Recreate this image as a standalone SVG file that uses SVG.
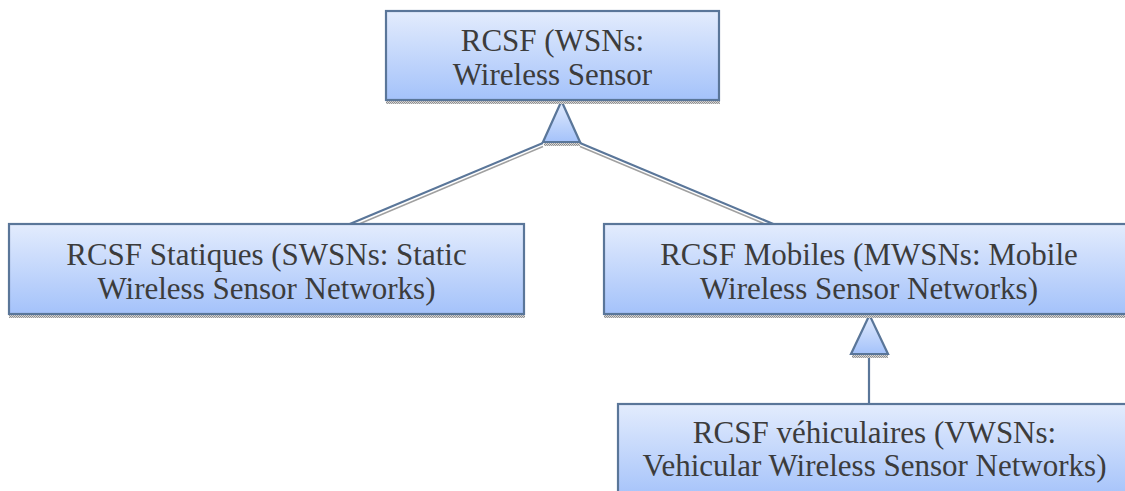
<svg xmlns="http://www.w3.org/2000/svg" width="1125" height="491" viewBox="0 0 1125 491">
<defs>
<linearGradient id="g" x1="0" y1="0" x2="0" y2="1">
<stop offset="0" stop-color="#e3ecfd"/>
<stop offset="1" stop-color="#a4c2fa"/>
</linearGradient>
<pattern id="hatch" width="2" height="2" patternUnits="userSpaceOnUse">
<rect width="2" height="2" fill="#d8d8d8"/>
<rect width="1" height="1" fill="#8a8a8a"/>
<rect x="1" y="1" width="1" height="1" fill="#9a9a9a"/>
</pattern>
</defs>
<style>
.box{fill:url(#g);stroke:#5a7699;stroke-width:2.2}
.shadow{fill:url(#hatch)}
.tri{fill:url(#g);stroke:#5a7699;stroke-width:2.2;stroke-linejoin:miter}
.ln{stroke:#5a7699;stroke-width:2.2;fill:none}
.lns{stroke:#a0a0a0;stroke-width:1.5;fill:none}
text{font-family:"Liberation Serif","Times New Roman",serif;font-size:31px;fill:#3c3c3c;text-anchor:middle}
</style>
<g id="connectors">
<line class="lns" x1="543" y1="146.5" x2="346" y2="229.5"/>
<line class="ln" x1="543" y1="143" x2="345" y2="226"/>
<line class="lns" x1="580" y1="146.5" x2="778" y2="229.5"/>
<line class="ln" x1="580" y1="143" x2="778" y2="226"/>
<rect class="shadow" x="544" y="143" width="36" height="3"/>
<polygon class="tri" points="561.5,101 543,142 580,142"/>
<line class="ln" x1="869" y1="354" x2="869" y2="404"/>
<rect class="shadow" x="852" y="355" width="36" height="3"/>
<polygon class="tri" points="869.5,315 851,354 888,354"/>
</g>
<g id="node-wsn">
<rect class="shadow" x="386" y="101" width="334" height="3"/>
<rect class="box" x="386" y="11" width="333" height="89"/>
<text x="552.5" y="51">RCSF (WSNs:</text>
<text x="552.5" y="85">Wireless Sensor</text>
</g>
<g id="node-swsn">
<rect class="shadow" x="9" y="315" width="516" height="3"/>
<rect class="box" x="9" y="224" width="515" height="90"/>
<text x="266.5" y="265">RCSF Statiques (SWSNs: Static</text>
<text x="266.5" y="299">Wireless Sensor Networks)</text>
</g>
<g id="node-mwsn">
<rect class="shadow" x="604" y="315" width="530" height="3"/>
<rect class="box" x="604" y="224" width="530" height="90"/>
<text x="869" y="265">RCSF Mobiles (MWSNs: Mobile</text>
<text x="869" y="299">Wireless Sensor Networks)</text>
</g>
<g id="node-vwsn">
<rect class="box" x="618" y="404" width="513" height="95"/>
<text x="874.5" y="443">RCSF véhiculaires (VWSNs:</text>
<text x="874.5" y="476">Vehicular Wireless Sensor Networks)</text>
</g>
</svg>
